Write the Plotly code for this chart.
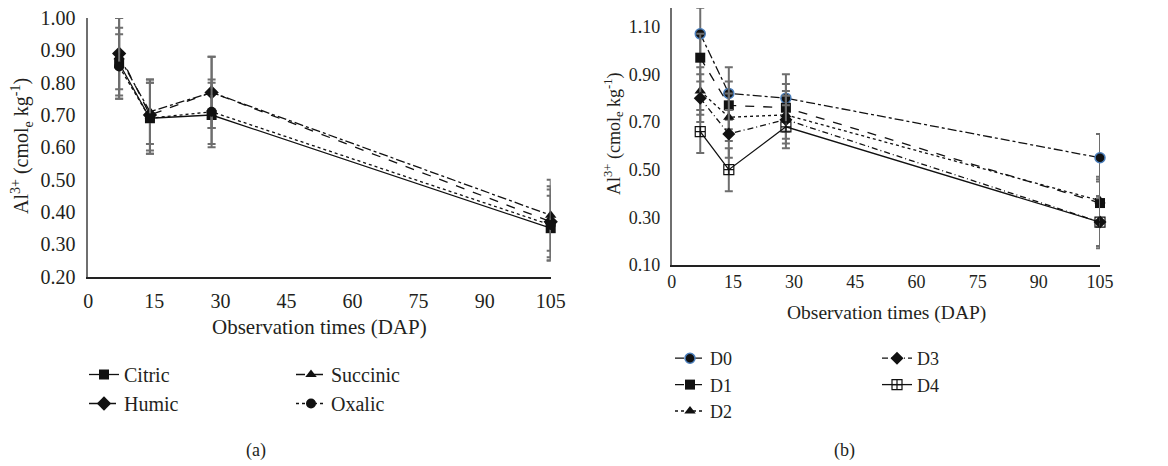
import plotly.graph_objects as go

# ---------------- data ----------------
days = [7, 14, 28, 105]

# panel (a)
citric = [0.86, 0.69, 0.70, 0.35]
humic = [0.89, 0.70, 0.77, 0.37]
succinic = [0.88, 0.71, 0.77, 0.39]
oxalic = [0.85, 0.69, 0.71, 0.36]
citric_err = [0.11, 0.11, 0.10, 0.10]
humic_err = [0.11, 0.11, 0.11, 0.11]
succinic_err = [0.12, 0.10, 0.11, 0.11]
oxalic_err = [0.10, 0.11, 0.10, 0.11]

# panel (b)
d0 = [1.07, 0.82, 0.80, 0.55]
d1 = [0.97, 0.77, 0.76, 0.36]
d2 = [0.83, 0.72, 0.73, 0.37]
d3 = [0.80, 0.65, 0.71, 0.28]
d4 = [0.66, 0.50, 0.68, 0.28]
d0_err = [0.11, 0.11, 0.10, 0.10]
d1_err = [0.10, 0.10, 0.10, 0.10]
d2_err = [0.10, 0.10, 0.10, 0.10]
d3_err = [0.10, 0.10, 0.10, 0.10]
d4_err = [0.09, 0.09, 0.09, 0.11]

x_ticks = [0, 15, 30, 45, 60, 75, 90, 105]
ya_ticks = [0.20, 0.30, 0.40, 0.50, 0.60, 0.70, 0.80, 0.90, 1.00]
yb_ticks = [0.10, 0.30, 0.50, 0.70, 0.90, 1.10]

# ---------------- style ----------------
OFF = 8                      # page body margin
W, H = 1168 - OFF, 466 - OFF
FONT = "Liberation Serif"
TXT = "#231f20"
ERRC = "#6e6e6e"


def px_x(p):
    return (p - OFF) / W


def px_y(p):
    return min(1.0, 1 - (p - OFF) / H)


fig = go.Figure()


def add(x, y, err, name, dash, symbol, xa, ya, legend, msize=10, mcolor="#111",
        mline=None):
    fig.add_trace(go.Scatter(
        x=x, y=y, name=name, mode="lines+markers",
        xaxis=xa, yaxis=ya, legend=legend, cliponaxis=False,
        line=dict(color="#111", width=1.3, dash=dash),
        marker=dict(symbol=symbol, size=msize, color=mcolor,
                    line=mline if mline else dict(width=0)),
        error_y=dict(type="data", array=err, visible=True, color=ERRC,
                     thickness=2, width=4),
    ))


# panel (a)
add(days, citric, citric_err, "Citric", "solid", "square", "x", "y", "legend")
add(days, humic, humic_err, "Humic", "dash", "diamond", "x", "y", "legend", msize=11)
add(days, succinic, succinic_err, "Succinic", "dashdot", "triangle-up", "x", "y", "legend2")
add(days, oxalic, oxalic_err, "Oxalic", "dot", "circle", "x", "y", "legend2")

# panel (b)
add(days, d0, d0_err, "D0", "dashdot", "circle", "x2", "y2", "legend3", msize=10,
    mline=dict(color="#4a7ebb", width=1.5))
add(days, d1, d1_err, "D1", "dash", "square", "x2", "y2", "legend3")
add(days, d2, d2_err, "D2", "dot", "triangle-up", "x2", "y2", "legend3")
add(days, d3, d3_err, "D3", "6px,3px,1px,3px", "diamond", "x2", "y2", "legend4", msize=10)
add(days, d4, d4_err, "D4", "solid", "square-cross-open", "x2", "y2", "legend4",
    msize=10, mcolor="#111", mline=dict(color="#111", width=1.2))


def axis(size, **kw):
    d = dict(showgrid=False, zeroline=False, ticks="", automargin=False,
             showline=True, linewidth=1.5, ticklabeloverflow="allow",
             tickfont=dict(family=FONT, color=TXT, size=size))
    d.update(kw)
    return d


# right panel: 0.10 at y=265 px, 238.3 px per unit; top edge limited to y=8 px
yb_top = 0.10 + (265 - OFF) / 238.3

fig.update_layout(
    width=W, height=H,
    margin=dict(l=0, r=0, t=0, b=0, autoexpand=False),
    paper_bgcolor="white", plot_bgcolor="white",
    font=dict(family=FONT, color=TXT),
    xaxis=axis(20, domain=[px_x(88.3), px_x(550.7)], range=[0, 105],
               tickvals=x_ticks, linecolor="#222", ticklabelstandoff=6, anchor="y"),
    yaxis=axis(20, domain=[px_y(276.7), px_y(18)], range=[0.2, 1.0],
               tickvals=ya_ticks, tickformat=".2f", linecolor="#6f6f6f",
               ticklabelstandoff=7, anchor="x"),
    xaxis2=axis(18, domain=[px_x(671.7), px_x(1100)], range=[0, 105],
                tickvals=x_ticks, linecolor="#222", ticklabelstandoff=0, anchor="y2"),
    yaxis2=axis(18, domain=[px_y(265), px_y(OFF)], range=[0.1, yb_top],
                tickvals=yb_ticks, tickformat=".2f", linecolor="#6f6f6f",
                ticklabelstandoff=6, anchor="x2"),
)

leg_common = dict(bgcolor="rgba(0,0,0,0)", borderwidth=0, orientation="v",
                  xanchor="left", yanchor="top", itemclick=False,
                  itemdoubleclick=False, tracegroupgap=0)
fig.update_layout(
    legend=dict(x=px_x(84), y=px_y(355), font=dict(family=FONT, size=20, color=TXT),
                **leg_common),
    legend2=dict(x=px_x(291), y=px_y(355), font=dict(family=FONT, size=20, color=TXT),
                 **leg_common),
    legend3=dict(x=px_x(670), y=px_y(340), font=dict(family=FONT, size=18, color=TXT),
                 **leg_common),
    legend4=dict(x=px_x(877), y=px_y(340), font=dict(family=FONT, size=18, color=TXT),
                 **leg_common),
)

ytitle = "Al<sup>3+</sup> (cmol<sub>e</sub> kg<sup>-1</sup>)"
annots = [
    dict(text=ytitle, x=px_x(22), y=px_y(146), textangle=-90, font=dict(size=20)),
    dict(text=ytitle, x=px_x(614), y=px_y(134), textangle=-90, font=dict(size=18)),
    dict(text="Observation times (DAP)", x=px_x(319), y=px_y(327), font=dict(size=21)),
    dict(text="Observation times (DAP)", x=px_x(886), y=px_y(313), font=dict(size=19.5)),
    dict(text="(a)", x=px_x(256), y=px_y(450), font=dict(size=18)),
    dict(text="(b)", x=px_x(844), y=px_y(450), font=dict(size=18)),
]
for a in annots:
    a.update(xref="paper", yref="paper", showarrow=False, xanchor="center",
             yanchor="middle")
    a["font"].update(family=FONT, color=TXT)
fig.update_layout(annotations=annots)

fig.write_html("out.html")
